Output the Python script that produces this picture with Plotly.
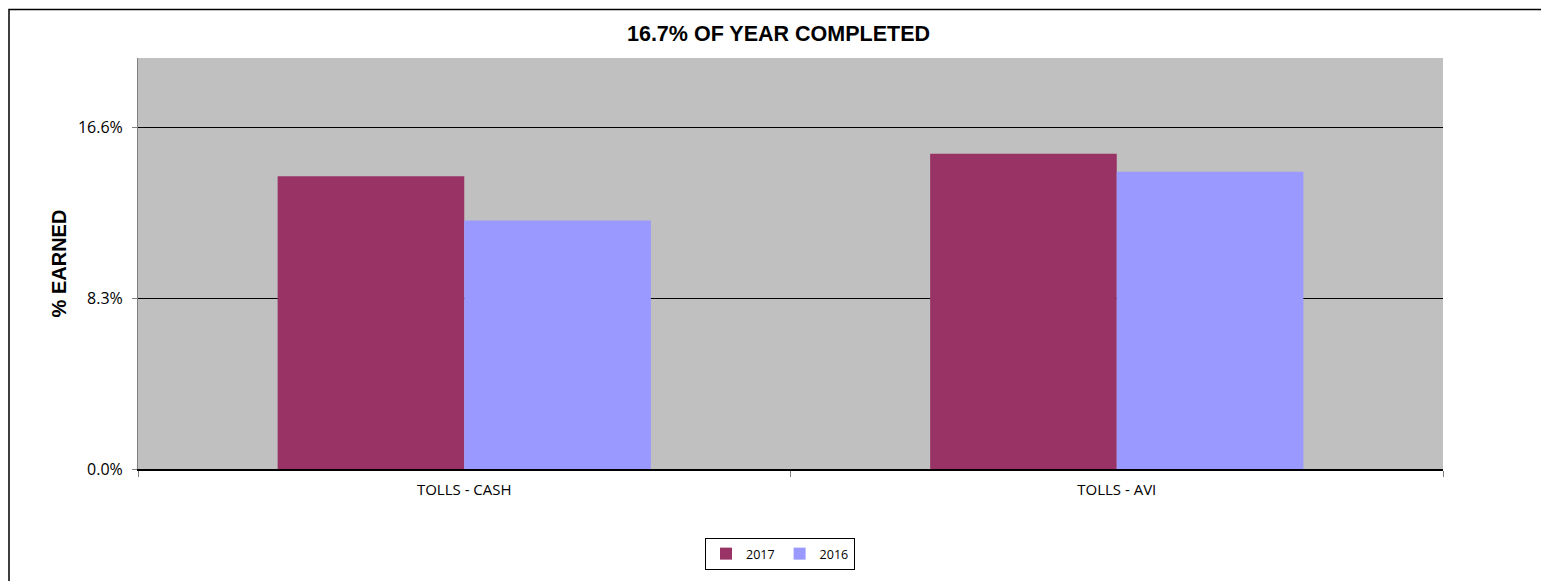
import plotly.graph_objects as go

categories = ["TOLLS - CASH", "TOLLS - AVI"]
series_names = ["2017", "2016"]
values_2017 = [0.1424, 0.1534]
values_2016 = [0.1209, 0.1447]
tick_vals = [0.0, 0.083, 0.166]
tick_text = ["0.0%", "8.3%", "16.6%"]
colors = ["#993366", "#9999FF"]

fig = go.Figure()
for name, vals, col in zip(series_names, [values_2017, values_2016], colors):
    fig.add_trace(go.Bar(x=categories, y=vals, name=name, marker_color=col,
                         marker_line_width=0))

# page body has an 8px margin, so figure coords = window coords - 8
OFF = 8
W, H = 1549 - OFF, 581 - OFF
L, T = 138 - OFF, 58 - OFF
R = W - (1443 - OFF)
B = H - (470 - OFF)
pw, ph = W - L - R, H - T - B

def px_x(x):
    return (x - OFF - L) / pw

def px_y(y):
    return (H - B - (y - OFF)) / ph

fig.add_shape(type="rect", xref="paper", yref="paper",
              x0=px_x(9), x1=px_x(1700), y0=px_y(9.5), y1=px_y(700),
              line=dict(color="black", width=1.5), fillcolor="rgba(0,0,0,0)", layer="below")

fig.update_layout(
    width=W, height=H,
    margin=dict(l=L, r=R, t=T, b=B),
    paper_bgcolor="white",
    plot_bgcolor="#C0C0C0",
    barmode="group",
    bargap=0.428,
    bargroupgap=0,
    title=dict(text="<b>16.7% OF YEAR COMPLETED</b>", x=0.5, xanchor="center",
               y=1 - (33 - OFF) / H, yanchor="middle", yref="container",
               font=dict(family="Liberation Sans, Arial", size=21.5, color="black")),
    font=dict(family="Open Sans, Calibri", size=13, color="black"),
    showlegend=True,
    legend=dict(orientation="h", x=px_x(780), xanchor="center", y=px_y(554), yanchor="middle",
                bordercolor="black", borderwidth=1, bgcolor="white",
                font=dict(family="Open Sans", size=12.5, color="black"),
                itemwidth=30, traceorder="normal"),
    xaxis=dict(showgrid=False, showline=True, linecolor="black", linewidth=2,
               ticks="outside", tickson="boundaries", ticklen=6, tickcolor="#808080",
               ticklabelstandoff=6,
               tickfont=dict(family="Open Sans", size=15, color="black")),
    yaxis=dict(range=[0, 0.2], tickvals=tick_vals, ticktext=tick_text,
               showgrid=True, gridcolor="black", gridwidth=1,
               showline=True, linecolor="#808080", linewidth=1,
               ticks="outside", ticklen=5, tickcolor="#808080", zeroline=False,
               ticklabelstandoff=6,
               tickfont=dict(family="Open Sans", size=16, color="black"),
               title=dict(text="<b>% EARNED</b>", standoff=5,
                          font=dict(family="Liberation Sans, Arial", size=20, color="black"))),
)

fig.write_html("out.html")
